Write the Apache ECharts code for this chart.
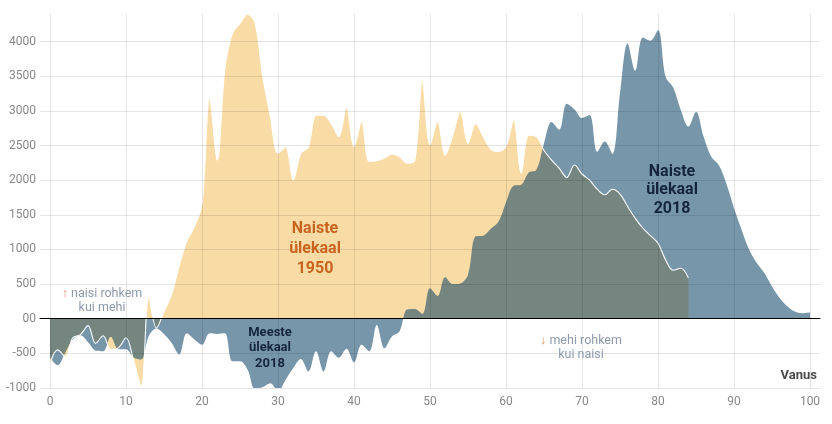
<!DOCTYPE html>
<html><head><meta charset="utf-8">
<script src="https://cdn.jsdelivr.net/npm/echarts@6/dist/echarts.min.js"></script>
<style>html,body{margin:0;padding:0;background:#fff}#c{width:832px;height:424px}</style>
</head><body><div id="c"></div>
<script>
const ages = [0,1,2,3,4,5,6,7,8,9,10,11,12,13,14,15,16,17,18,19,20,21,22,23,24,25,26,27,28,29,30,31,32,33,34,35,36,37,38,39,40,41,42,43,44,45,46,47,48,49,50,51,52,53,54,55,56,57,58,59,60,61,62,63,64,65,66,67,68,69,70,71,72,73,74,75,76,77,78,79,80,81,82,83,84,85,86,87,88,89,90,91,92,93,94,95,96,97,98,99,100];
// women surplus (women minus men) by age, 1950 (ages 0-84)
const surplus1950 = [-650,-450,-545,-275,-230,-100,-355,-245,-440,-420,-275,-600,-980,310,-135,105,350,760,1120,1330,1650,3180,2290,3600,4120,4265,4398,4260,3490,2920,2390,2480,2000,2390,2480,2940,2940,2820,2630,3050,2485,2845,2270,2280,2320,2380,2340,2245,2290,3420,2510,2845,2360,2650,2990,2530,2820,2630,2450,2415,2485,2870,2100,2650,2630,2430,2290,2170,2040,2220,2090,2000,1870,1790,1870,1800,1620,1450,1310,1200,1090,850,700,730,590];
// women surplus by age, 2018 (ages 0-100)
const surplus2018 = [-560,-670,-490,-300,-240,-340,-460,-470,-260,-440,-440,-560,-590,-250,-140,-220,-350,-515,-210,-300,-375,-210,-220,-210,-615,-615,-735,-1020,-985,-930,-1045,-880,-710,-580,-760,-470,-760,-470,-565,-435,-630,-375,-470,-90,-425,-255,-180,135,140,70,440,330,600,500,510,635,1190,1200,1300,1400,1680,1920,1935,2110,2150,2530,2840,2730,3105,3025,2900,2940,2410,2560,2380,3255,3975,3580,4060,4015,4165,3495,3340,3015,2775,2990,2630,2340,2220,1950,1600,1285,995,805,660,465,300,180,105,80,90];
const xTickStep = 10;
const yTickStep = 500;
const xRange = [0, 100];
const yRange = [-1000, 4400];
const yLabelRange = [-1000, 4000];

const d1950 = surplus1950.map((v, i) => [ages[i], v]);
const d2018 = surplus2018.map((v, i) => [ages[i], v]);

const chart = echarts.init(document.getElementById('c'), null, {renderer: 'canvas'});
const gridTop = 14, gridBottom = 36;
const plotH = 424 - gridTop - gridBottom;
const top1 = gridTop + (yRange[1] - yLabelRange[1]) / (yRange[1] - yRange[0]) * plotH;
const smooth = 0.35;
const gridColor = 'rgba(0,0,0,0.1)';
const labelColor = '#888';
const FF = 'Roboto, "Noto Sans", sans-serif';

chart.setOption({
  animation: false,
  backgroundColor: '#fff',
  grid: [
    {left: 50, right: 22, top: gridTop, bottom: gridBottom},
    {left: 40, right: 12, top: top1, bottom: gridBottom}
  ],
  xAxis: [
    {gridIndex: 0, type: 'value', min: xRange[0], max: xRange[1], interval: xTickStep, z: 3,
     axisLine: {show: false}, axisTick: {show: false},
     splitLine: {show: true, lineStyle: {color: gridColor, width: 1}},
     axisLabel: {color: labelColor, fontSize: 12, fontFamily: FF, margin: 8}},
    {gridIndex: 1, type: 'value', min: 0, max: 1, z: 4,
     axisLine: {show: true, onZero: true, lineStyle: {color: '#000', width: 1}},
     axisTick: {show: false}, axisLabel: {show: false}, splitLine: {show: false}}
  ],
  yAxis: [
    {gridIndex: 0, type: 'value', min: yRange[0], max: yRange[1], interval: yTickStep, show: false,
     splitLine: {show: false}},
    {gridIndex: 1, type: 'value', min: yLabelRange[0], max: yLabelRange[1], interval: yTickStep, z: 3,
     axisLine: {show: false}, axisTick: {show: false},
     splitLine: {show: true, lineStyle: {color: gridColor, width: 1}},
     axisLabel: {color: labelColor, fontSize: 12, fontFamily: FF, margin: 4,
       formatter: v => v === 0 ? '00' : String(v)}}
  ],
  series: [
    {name: '1950', type: 'line', xAxisIndex: 0, yAxisIndex: 0, data: d1950, smooth: smooth,
     showSymbol: false, symbol: 'none', z: 1,
     lineStyle: {width: 0}, areaStyle: {color: '#f9dba5', opacity: 1}},
    {name: '2018', type: 'line', xAxisIndex: 0, yAxisIndex: 0, data: d2018, smooth: smooth,
     showSymbol: false, symbol: 'none', z: 1,
     lineStyle: {width: 0}, areaStyle: {color: 'rgb(9,64,100)', opacity: 0.55}},
    {name: '1950 line', type: 'line', xAxisIndex: 0, yAxisIndex: 0, data: d1950, smooth: smooth,
     showSymbol: false, symbol: 'none', z: 1,
     lineStyle: {width: 1.1, color: '#ffffff'}}
  ],
  graphic: [
    {type: 'text', x: 315, y: 249, z: 10, style: {text: 'Naiste\nülekaal\n1950', align: 'center', verticalAlign: 'middle',
      fill: '#c8641f', font: 'bold 16px ' + FF, lineHeight: 20}},
    {type: 'text', x: 672, y: 190, z: 10, style: {text: 'Naiste\nülekaal\n2018', align: 'center', verticalAlign: 'middle',
      fill: '#13253d', font: 'bold 16px ' + FF, lineHeight: 18.5}},
    {type: 'text', x: 270, y: 348, z: 10, style: {text: 'Meeste\nülekaal\n2018', align: 'center', verticalAlign: 'middle',
      fill: '#15263e', font: 'bold 13px ' + FF, lineHeight: 15.5}},
    {type: 'text', x: 102, y: 301, z: 10, style: {text: '{a|↑} naisi rohkem\nkui mehi', align: 'center', verticalAlign: 'middle',
      fill: '#8d9aab', font: '12.5px ' + FF, lineHeight: 14.5,
      rich: {a: {fill: '#e58b73', font: '12.5px ' + FF}}}},
    {type: 'text', x: 581, y: 348, z: 10, style: {text: '{a|↓} mehi rohkem\nkui naisi', align: 'center', verticalAlign: 'middle',
      fill: '#8d9aab', font: '12.5px ' + FF, lineHeight: 14.5,
      rich: {a: {fill: '#e2a26a', font: '12.5px ' + FF}}}},
    {type: 'text', x: 817, y: 376, z: 10, style: {text: 'Vanus', align: 'right', verticalAlign: 'middle',
      fill: '#4a4a4a', font: 'bold 13px ' + FF}}
  ]
});
</script>
</body></html>
